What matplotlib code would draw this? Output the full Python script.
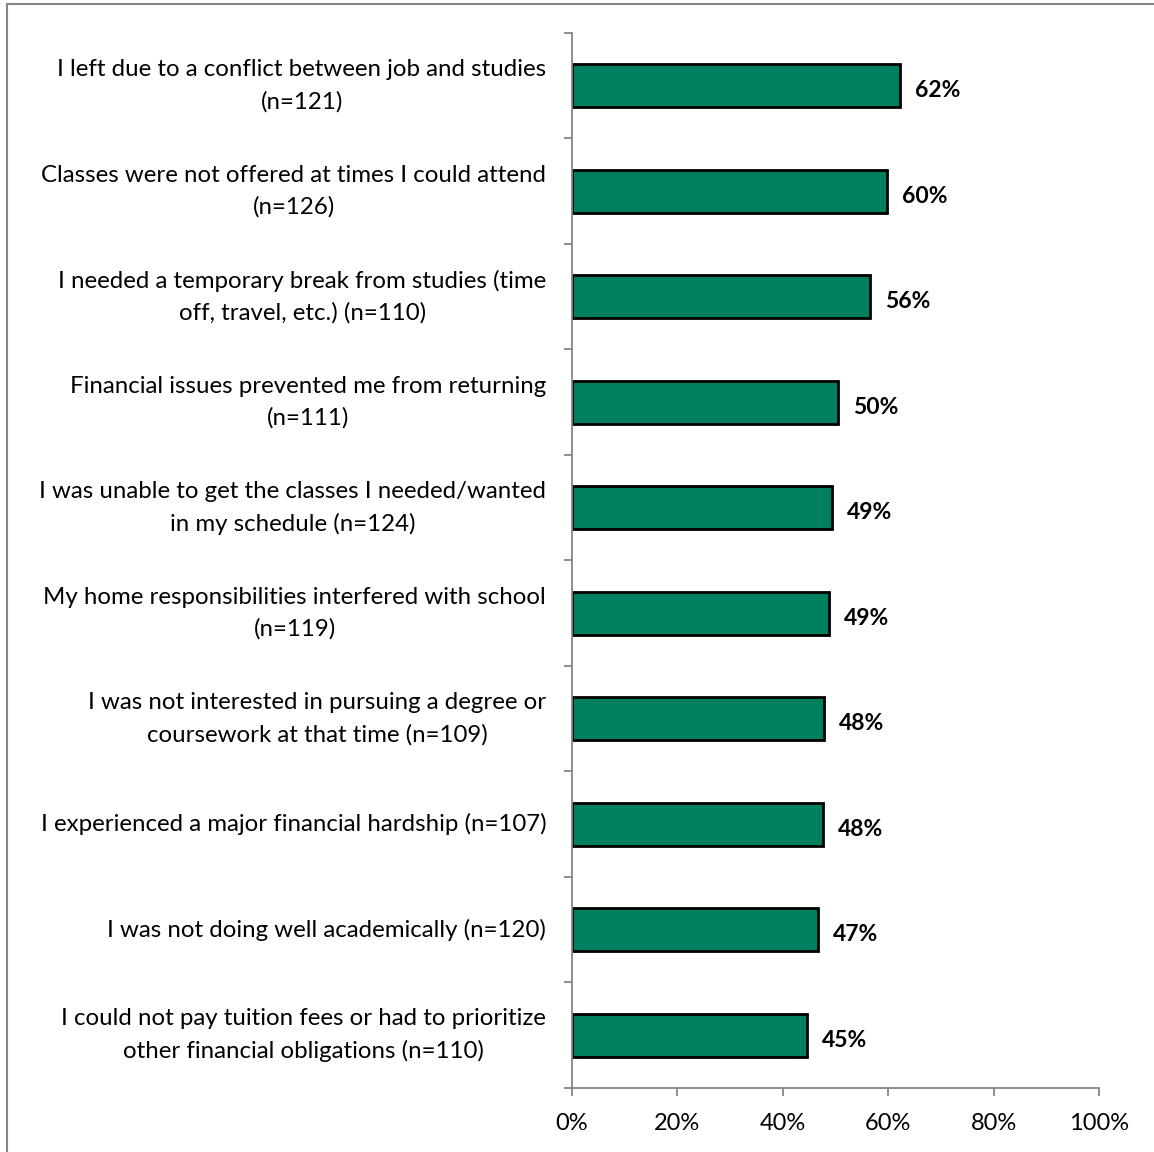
import matplotlib.pyplot as plt
from matplotlib.lines import Line2D
from matplotlib.ticker import FuncFormatter

plt.rcParams['font.family'] = ['Lato', 'DejaVu Sans']

reasons = [
    "I left due to a conflict between job and studies\n(n=121)",
    "Classes were not offered at times I could attend\n(n=126)",
    "I needed a temporary break from studies (time\noff, travel, etc.) (n=110)",
    "Financial issues prevented me from returning\n(n=111)",
    "I was unable to get the classes I needed/wanted\nin my schedule (n=124)",
    "My home responsibilities interfered with school\n(n=119)",
    "I was not interested in pursuing a degree or\ncoursework at that time (n=109)",
    "I experienced a major financial hardship (n=107)",
    "I was not doing well academically (n=120)",
    "I could not pay tuition fees or had to prioritize\nother financial obligations (n=110)",
]
share = [62.2, 59.8, 56.5, 50.5, 49.3, 48.8, 47.8, 47.7, 46.7, 44.6]
xticks = [0, 20, 40, 60, 80, 100]

bar_color = '#00805F'
axis_gray = '#868686'

fig = plt.figure(figsize=(11.54, 11.52), dpi=100)
ax = fig.add_axes([0.4957, 0.0556, 0.4567, 0.9158])

pos = list(range(len(reasons)))
ax.barh(pos, share, height=0.41, color=bar_color, edgecolor='black', linewidth=2)
for p, v in zip(pos, share):
    ax.text(v + 2.8, p + 0.05, f"{round(v)}%", va='center', ha='left',
            fontsize=16.5, fontweight='bold')

ax.set_xlim(0, 100)
ax.set_ylim(len(reasons) - 0.5, -0.5)
ax.set_xticks(xticks)
ax.xaxis.set_major_formatter(FuncFormatter(lambda x, _: f"{x:.0f}%"))
ax.set_yticks([p - 0.5 for p in pos] + [len(reasons) - 0.5])
ax.set_yticklabels([])
for p, lab in zip(pos, reasons):
    ax.text(-4.9, p, lab, ha='right', va='center', multialignment='center',
            fontsize=17.3, linespacing=1.6)

for side in ['top', 'right']:
    ax.spines[side].set_visible(False)
for side in ['left', 'bottom']:
    ax.spines[side].set_color(axis_gray)
    ax.spines[side].set_linewidth(1.3)
ax.tick_params(axis='x', direction='out', length=6, width=1.3, color=axis_gray,
               labelsize=17, pad=12)
ax.tick_params(axis='y', direction='out', length=6, width=1.3, color=axis_gray)

# frame edges on the left and top of the chart area
fig.add_artist(Line2D([7 / 1154, 7 / 1154], [0, 1 - 4 / 1152],
                      transform=fig.transFigure, color=axis_gray, linewidth=1.5))
fig.add_artist(Line2D([7 / 1154, 1], [1 - 4 / 1152, 1 - 4 / 1152],
                      transform=fig.transFigure, color=axis_gray, linewidth=1.5))

fig.savefig('out.png', dpi=100)
